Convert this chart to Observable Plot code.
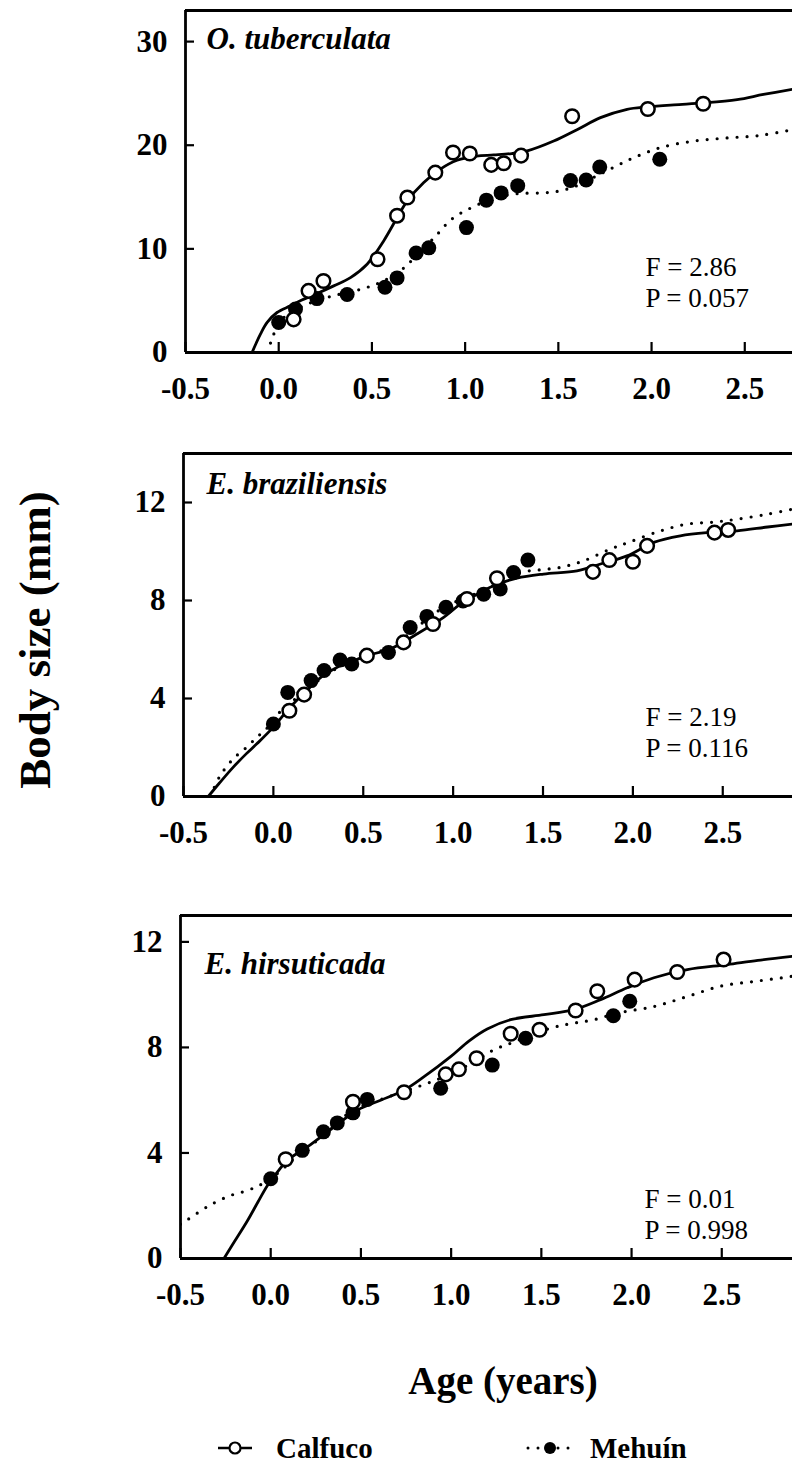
<!DOCTYPE html>
<html>
<head>
<meta charset="utf-8">
<script src="https://cdn.jsdelivr.net/npm/d3@7"></script>
<script src="https://cdn.jsdelivr.net/npm/@observablehq/plot@0.6"></script>
<style>
  html, body { margin: 0; padding: 0; background: #fff; }
  #root { position: relative; width: 792px; height: 1475px; overflow: hidden; font-family: "Liberation Serif", "Times New Roman", serif; color: #000; }
  #root svg.plot { position: absolute; left: 0; }
  .ytitle { position: absolute; left: 35px; top: 640px; transform: translate(-50%, -50%) rotate(-90deg); font-weight: bold; font-size: 45px; white-space: nowrap; }
  .xtitle { position: absolute; left: 503px; top: 1380px; transform: translate(-50%, -50%); font-weight: bold; font-size: 39px; white-space: nowrap; }
  .legend { position: absolute; top: 1428px; left: 0; width: 792px; height: 40px; }
</style>
</head>
<body>
<div id="root"></div>
<script>
// ---------------- data ----------------
const speciesNames = ["O. tuberculata", "E. braziliensis", "E. hirsuticada"];
const statF = ["F = 2.86", "F = 2.19", "F = 0.01"];
const statP = ["P = 0.057", "P = 0.116", "P = 0.998"];
const siteNames = ["Calfuco", "Mehuín"];
const ageTicks = [-0.5, 0, 0.5, 1, 1.5, 2, 2.5];
const sizeTicksOT = [0, 10, 20, 30];
const sizeTicksE = [0, 4, 8, 12];

// O. tuberculata
const otCalfucoPts = [[0.08,3.2],[0.16,5.95],[0.24,6.9],[0.53,9.0],[0.635,13.2],[0.69,14.95],[0.84,17.36],[0.935,19.3],[1.025,19.2],[1.14,18.1],[1.207,18.26],[1.30,19.0],[1.574,22.8],[1.98,23.5],[2.277,24.0]];
const otMehuinPts = [[0.0,2.9],[0.09,4.2],[0.205,5.2],[0.367,5.6],[0.57,6.3],[0.635,7.2],[0.737,9.6],[0.805,10.1],[1.007,12.05],[1.114,14.7],[1.193,15.4],[1.282,16.1],[1.565,16.6],[1.649,16.65],[1.722,17.9],[2.044,18.65]];
const otCalfucoFit = [[-0.143,0],[-0.098,1.77],[-0.062,2.9],[-0.009,3.86],[0.063,4.5],[0.116,5.0],[0.2,5.65],[0.295,6.43],[0.385,7.23],[0.474,8.52],[0.563,10.77],[0.635,13.0],[0.689,14.6],[0.778,16.4],[0.867,17.7],[0.957,18.55],[1.06,18.95],[1.153,19.06],[1.25,19.2],[1.333,19.45],[1.475,20.4],[1.6,21.5],[1.726,22.66],[1.869,23.47],[1.976,23.7],[2.12,23.9],[2.28,24.08],[2.459,24.4],[2.6,24.9],[2.756,25.4]];
const otMehuinFit = [[-0.065,0],[-0.035,1.3],[0.0,2.9],[0.09,4.1],[0.2,5.0],[0.3,5.5],[0.44,6.1],[0.55,6.8],[0.653,7.9],[0.737,9.3],[0.84,11.2],[0.93,12.9],[1.025,13.9],[1.114,14.6],[1.2,15.1],[1.3,15.35],[1.42,15.4],[1.51,15.6],[1.6,16.1],[1.69,16.9],[1.8,17.9],[1.905,18.8],[2.048,19.77],[2.226,20.4],[2.405,20.7],[2.584,20.95],[2.756,21.5]];

// E. braziliensis
const ebCalfucoPts = [[0.089,3.5],[0.171,4.16],[0.52,5.75],[0.724,6.29],[0.888,7.04],[1.077,8.06],[1.244,8.91],[1.778,9.17],[1.869,9.65],[2.0,9.58],[2.079,10.23],[2.454,10.77],[2.53,10.88]];
const ebMehuinPts = [[0.0,2.96],[0.08,4.25],[0.21,4.73],[0.282,5.14],[0.371,5.57],[0.436,5.41],[0.64,5.88],[0.761,6.9],[0.854,7.35],[0.96,7.72],[1.055,7.98],[1.17,8.26],[1.262,8.47],[1.336,9.14],[1.416,9.65]];
const ebCalfucoFit = [[-0.362,0],[-0.3,0.55],[-0.223,1.2],[-0.15,1.75],[-0.092,2.15],[0.0,2.83],[0.093,3.64],[0.204,4.46],[0.28,4.95],[0.353,5.27],[0.45,5.55],[0.52,5.75],[0.65,6.02],[0.798,6.63],[0.947,7.31],[1.04,7.85],[1.151,8.33],[1.225,8.6],[1.355,8.91],[1.503,9.08],[1.689,9.21],[1.82,9.49],[1.967,9.82],[2.116,10.37],[2.264,10.64],[2.413,10.77],[2.58,10.84],[2.75,11.0],[2.888,11.12]];
const ebMehuinFit = [[-0.35,0],[-0.3,0.8],[-0.223,1.54],[-0.15,2.0],[-0.092,2.42],[-0.04,2.75],[0.03,3.4],[0.1,3.85],[0.2,4.45],[0.3,5.0],[0.4,5.4],[0.52,5.75],[0.65,6.1],[0.75,6.6],[0.891,7.45],[1.0,7.9],[1.1,8.2],[1.25,8.7],[1.373,9.14],[1.48,9.25],[1.596,9.35],[1.726,9.62],[1.875,10.1],[1.986,10.4],[2.153,10.84],[2.302,11.12],[2.45,11.2],[2.58,11.32],[2.747,11.52],[2.888,11.73]];

// E. hirsuticada
const ehCalfucoPts = [[0.083,3.76],[0.456,5.94],[0.739,6.3],[0.97,6.98],[1.043,7.17],[1.141,7.59],[1.33,8.52],[1.49,8.67],[1.69,9.4],[1.81,10.13],[2.017,10.57],[2.253,10.86],[2.51,11.33]];
const ehMehuinPts = [[0.0,3.02],[0.175,4.1],[0.292,4.8],[0.369,5.14],[0.456,5.52],[0.535,6.03],[0.942,6.45],[1.228,7.33],[1.413,8.35],[1.899,9.2],[1.99,9.75]];
const ehCalfucoFit = [[-0.259,0],[-0.2,0.65],[-0.129,1.43],[-0.07,2.15],[-0.018,2.77],[0.04,3.3],[0.092,3.72],[0.203,4.23],[0.351,4.99],[0.48,5.62],[0.609,6.0],[0.739,6.38],[0.85,6.89],[0.997,7.65],[1.1,8.25],[1.2,8.7],[1.33,9.05],[1.514,9.24],[1.68,9.43],[1.828,9.81],[1.976,10.26],[2.124,10.64],[2.309,10.95],[2.53,11.14],[2.7,11.3],[2.892,11.45]];
const ehMehuinFit = [[-0.5,1.3],[-0.47,1.43],[-0.342,2.0],[-0.222,2.39],[-0.129,2.58],[-0.055,2.8],[0.0,3.02],[0.1,3.6],[0.175,4.1],[0.24,4.38],[0.35,5.0],[0.45,5.6],[0.628,6.07],[0.84,6.57],[1.0,7.0],[1.145,7.53],[1.237,7.91],[1.33,8.16],[1.551,8.73],[1.68,8.92],[1.791,9.05],[1.92,9.3],[2.124,9.55],[2.309,9.93],[2.493,10.32],[2.678,10.5],[2.835,10.64],[2.892,10.7]];

// ---------------- layout ----------------
const FONT = '"Liberation Serif", "Times New Roman", serif';
const W = 792;
const panels = [
  {top: 0,   ml: 185, mt: 10, mb: 58, frameBottom: 352,  xMax: 2.756, yDomain: [0, 33], yTicks: sizeTicksOT,
   title: speciesNames[0], titleX: 206, titleBase: 48.5, F: statF[0], P: statP[0], statX: 645, statBase: 273,
   cp: otCalfucoPts, mp: otMehuinPts, cf: otCalfucoFit, mf: otMehuinFit},
  {top: 440, ml: 183, mt: 13, mb: 58, frameBottom: 796,  xMax: 2.888, yDomain: [0, 14], yTicks: sizeTicksE,
   title: speciesNames[1], titleX: 206, titleBase: 493, F: statF[1], P: statP[1], statX: 645, statBase: 723,
   cp: ebCalfucoPts, mp: ebMehuinPts, cf: ebCalfucoFit, mf: ebMehuinFit},
  {top: 900, ml: 180, mt: 15, mb: 58, frameBottom: 1258, xMax: 2.892, yDomain: [0, 13], yTicks: sizeTicksE,
   title: speciesNames[2], titleX: 204, titleBase: 973, F: statF[2], P: statP[2], statX: 644, statBase: 1205,
   cp: ehCalfucoPts, mp: ehMehuinPts, cf: ehCalfucoFit, mf: ehMehuinFit}
];

const root = document.getElementById("root");

for (const p of panels) {
  const height = p.frameBottom - p.top + p.mb;
  const plotW = W - p.ml;
  const plotH = height - p.mt - p.mb;
  const xDomain = [ageTicks[0], p.xMax];
  const svg = Plot.plot({
    width: W, height,
    marginLeft: p.ml, marginRight: 0, marginTop: p.mt, marginBottom: p.mb,
    style: {fontFamily: FONT, background: "transparent", overflow: "visible"},
    x: {domain: xDomain},
    y: {domain: p.yDomain},
    marks: [
      // frame: left, bottom, top
      Plot.ruleX([xDomain[0]], {stroke: "#000", strokeWidth: 2.8}),
      Plot.ruleY([p.yDomain[0]], {stroke: "#000", strokeWidth: 2.8}),
      Plot.ruleY([p.yDomain[1]], {stroke: "#000", strokeWidth: 2.8}),
      // inward ticks
      Plot.tickY(p.yTicks, {y: d => d, insetRight: plotW - 9, stroke: "#000", strokeWidth: 2.2}),
      Plot.tickX(ageTicks, {x: d => d, insetTop: plotH - 10, stroke: "#000", strokeWidth: 2.2}),
      // axis labels
      Plot.axisY({ticks: p.yTicks, tickSize: 0, tickPadding: 18, tickFormat: d => String(d), fontSize: 31, fontWeight: "bold", fontFamily: FONT, label: null}),
      Plot.axisX({ticks: ageTicks, tickSize: 0, tickPadding: 24, tickFormat: d => d.toFixed(1), fontSize: 31, fontWeight: "bold", fontFamily: FONT, label: null}),
      // fitted curves
      Plot.line(p.mf, {x: "0", y: "1", curve: "catmull-rom", stroke: "#000", strokeWidth: 3.2, strokeDasharray: "0,10", strokeLinecap: "round", clip: true}),
      Plot.line(p.cf, {x: "0", y: "1", curve: "catmull-rom", stroke: "#000", strokeWidth: 2.8, clip: true}),
      // observations
      Plot.dot(p.mp, {x: "0", y: "1", r: 7.5, fill: "#000", stroke: "none"}),
      Plot.dot(p.cp, {x: "0", y: "1", r: 6.8, fill: "#fff", stroke: "#000", strokeWidth: 2.5}),
      // species title
      Plot.text([p.title], {text: d => d, frameAnchor: "top-left", textAnchor: "start", lineAnchor: "bottom",
        dx: p.titleX - p.ml, dy: p.titleBase - p.top - p.mt, fontSize: 31, fontWeight: "bold", fontStyle: "italic", fontFamily: FONT, fill: "#000"}),
      // stats
      Plot.text([p.F + "\n" + p.P], {text: d => d, frameAnchor: "top-left", textAnchor: "start", lineAnchor: "top", lineHeight: 1.15,
        dx: p.statX - p.ml, dy: p.statBase - 0.71 * 27 - p.top - p.mt, fontSize: 27, fontFamily: FONT, fill: "#000"})
    ]
  });
  svg.classList.add("plot");
  svg.style.top = p.top + "px";
  root.appendChild(svg);
}

// axis titles
const yt = document.createElement("div");
yt.className = "ytitle"; yt.textContent = "Body size (mm)";
root.appendChild(yt);
const xt = document.createElement("div");
xt.className = "xtitle"; xt.textContent = "Age (years)";
root.appendChild(xt);

// legend
const leg = d3.select(root).append("svg").attr("class", "legend").attr("width", 792).attr("height", 40)
  .style("font-family", FONT);
const cy = 20;
// Calfuco
leg.append("line").attr("x1", 218).attr("x2", 252).attr("y1", cy).attr("y2", cy).attr("stroke", "#000").attr("stroke-width", 2.5);
leg.append("circle").attr("cx", 235).attr("cy", cy).attr("r", 5.5).attr("fill", "#fff").attr("stroke", "#000").attr("stroke-width", 2.2);
leg.append("text").attr("x", 276).attr("y", cy + 10).attr("font-size", 29).attr("font-weight", "bold").text(siteNames[0]);
// Mehuín
leg.append("line").attr("x1", 528).attr("x2", 572).attr("y1", cy).attr("y2", cy).attr("stroke", "#000").attr("stroke-width", 3)
  .attr("stroke-dasharray", "0,10").attr("stroke-linecap", "round");
leg.append("circle").attr("cx", 550).attr("cy", cy).attr("r", 6).attr("fill", "#000");
leg.append("text").attr("x", 590).attr("y", cy + 10).attr("font-size", 29).attr("font-weight", "bold").text(siteNames[1]);
</script>
</body>
</html>
